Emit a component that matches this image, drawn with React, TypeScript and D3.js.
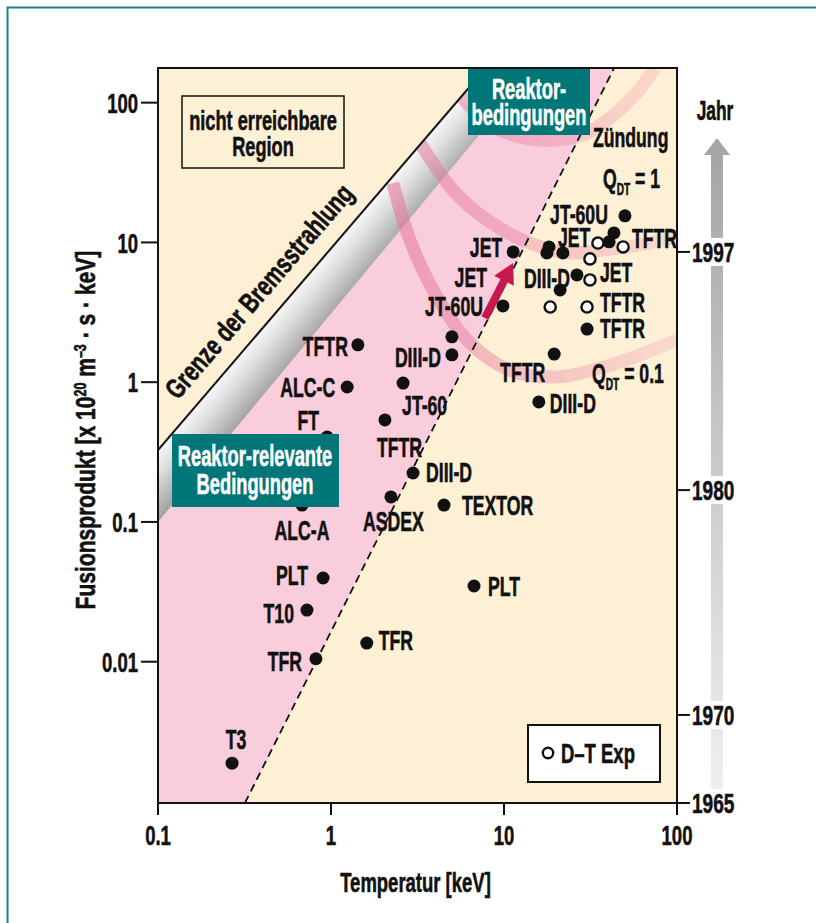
import React from 'react';
import * as d3 from 'd3';

const WIDTH = 816;
const HEIGHT = 923;
const FONT = '"Liberation Sans", Arial, Helvetica, sans-serif';

// axis ticks
const xTicks = [0.1, 1, 10, 100];
const xTickLabels = ['0.1', '1', '10', '100'];
const yTicks = [100, 10, 1, 0.1, 0.01];
const yTickLabels = ['100', '10', '1', '0.1', '0.01'];

// year scale on the right (year -> fusion product level it sits at)
const years = [1965, 1970, 1980, 1997];
const yearLevel = [0.000975, 0.00416, 0.169, 8.55];

// experiments (filled dots): temperature keV, fusion product 1e20 m^-3 s keV
const shotTemp = [
  0.268, 0.818, 0.726, 0.9, 0.68, 0.95, 1.24, 1.43, 5.0, 5.0,
  2.61, 2.05, 2.98, 2.22, 4.5, 6.71, 1.61, 11.3, 9.86, 50.0,
  43.2, 40.5, 18.2, 17.7, 21.9, 26.4, 21.1, 30.2, 19.5, 15.9,
];
const shotProduct = [
  0.00188, 0.0105, 0.0234, 0.0397, 0.132, 0.405, 0.924, 1.85, 2.11, 1.57,
  0.986, 0.537, 0.224, 0.151, 0.132, 0.0348, 0.0136, 8.55, 3.51, 15.5,
  11.7, 10.1, 9.28, 8.41, 8.41, 5.85, 4.57, 2.4, 1.59, 0.722,
];

// D-T experiments (open circles)
const dtTemp = [34.9, 48.8, 31.4, 31.4, 18.5, 30.2];
const dtProduct = [9.9, 9.28, 7.62, 5.39, 3.45, 3.45];

// labels: text, which set, index, pixel offset, anchor
const labelText = [
  'T3', 'TFR', 'T10', 'PLT', 'ALC-A', 'FT', 'ALC-C', 'TFTR', 'DIII-D', 'JT-60',
  'TFTR', 'DIII-D', 'ASDEX', 'TEXTOR', 'PLT', 'TFR', 'JET', 'JET', 'JT-60U', 'JT-60U',
  'TFTR', 'JET', 'DIII-D', 'TFTR', 'TFTR', 'DIII-D', 'JET', 'TFTR',
];
const labelRef: [string, number][] = [
  ['f', 0], ['f', 1], ['f', 2], ['f', 3], ['f', 4], ['f', 5], ['f', 6], ['f', 7], ['f', 9], ['f', 10],
  ['f', 11], ['f', 12], ['f', 13], ['f', 14], ['f', 15], ['f', 16], ['f', 17], ['f', 18], ['f', 18], ['f', 19],
  ['f', 20], ['f', 22], ['f', 25], ['f', 27], ['f', 28], ['f', 29], ['o', 3], ['o', 5],
];
const labelOffset: [number, number, string][] = [
  [4, -24, 'middle'], [-14, 2, 'end'], [-13, 3, 'end'], [-15, -3, 'end'], [0, 25, 'middle'],
  [-19, -17, 'middle'], [-12, 0, 'end'], [-10, 1, 'end'], [-11, 2, 'end'], [-1, 22, 'start'],
  [-8, 27, 'start'], [13, -1, 'start'], [-28, 24, 'start'], [18, 0, 'start'], [14, 0, 'start'],
  [12, -3, 'start'], [-11, -5, 'end'], [-16, -29, 'end'], [-20, 0, 'end'], [-17, -2, 'end'],
  [18, 5, 'start'], [9, -10, 'start'], [-7, 3, 'end'], [13, -1, 'start'], [-9, 18, 'end'],
  [11, 1, 'start'], [10, -8, 'start'], [13, -5, 'start'],
];

// region boundaries
const bremsLine: [number, number][] = [[0.1, 0.327], [7.85, 177]];
const bremsBandEdge: [number, number][] = [[0.1, 0.1], [15.1, 177]];
const dashedLine: [number, number][] = [[0.318, 0.000975], [43.3, 177]];

// Q curves
const arcQ01: [number, number][] = [
  [2.28, 26.6], [2.86, 10.4], [4.1, 4.07], [6.35, 1.91], [10.8, 1.22],
  [20.2, 1.09], [37.3, 1.28], [61.1, 1.57], [100, 2.0],
];
const arcQ1: [number, number][] = [
  [3.27, 51.5], [5.07, 23.7], [7.98, 14.5], [14.1, 9.9], [24.1, 8.41],
  [37.3, 8.83], [61.1, 9.59], [100, 10.9],
];
const arcIgnition: [number, number][] = [
  [5.42, 119], [7.98, 71.6], [12.4, 56.9], [20.2, 54.1], [30.2, 60.7],
  [41.0, 77.8], [57.2, 114], [74.6, 177],
];

// JET progress arrow
const arrowFrom: [number, number] = [7.76, 2.88];
const arrowTo: [number, number] = [11.3, 7.13];

const curveLabelPos: [number, number][] = [[32.7, 56.9], [37.3, 28.9], [32.3, 1.16]];

const x = d3.scaleLog().domain([0.1, 100]).range([158, 677]);
const y = d3.scaleLog().domain([0.000975, 177]).range([803, 68]);
const X0 = 158, X1 = 677, Y0 = 68, Y1 = 803;

const Txt = ({ px, py, children, anchor = 'start', size = 28, sx = 0.63, fill = '#111' }: any) => (
  <text
    transform={`translate(${px},${py}) scale(${sx},1)`}
    textAnchor={anchor}
    fontSize={size}
    fontWeight={700}
    fill={fill}
    stroke={fill}
    strokeWidth={0.6}
    fontFamily={FONT}
    dy="0.36em"
  >
    {children}
  </text>
);

const pt = (d: [number, number]) => [x(d[0]), y(d[1])];

export default function App() {
  const poly = (pts: [number, number][]) => pts.map(p => pt(p).join(',')).join(' ');

  const pinkRegion = poly([
    bremsBandEdge[0], bremsBandEdge[1], dashedLine[1], dashedLine[0], [0.1, 0.000975],
  ]);
  const grayBand = poly([bremsLine[0], bremsLine[1], bremsBandEdge[1], bremsBandEdge[0]]);
  const belowBrems = poly([bremsLine[0], bremsLine[1], [100, 177], [100, 0.000975], [0.1, 0.000975]]);

  // gradient across the gray band
  const [bx0, by0] = pt(bremsLine[0]);
  const [bx1, by1] = pt(bremsLine[1]);
  const len = Math.hypot(bx1 - bx0, by1 - by0);
  const dir = [(bx1 - bx0) / len, (by1 - by0) / len];
  const nrm = [-dir[1], dir[0]];
  const [ex0, ey0] = pt(bremsBandEdge[0]);
  const bandW = (ex0 - bx0) * nrm[0] + (ey0 - by0) * nrm[1];
  const angle = (Math.atan2(dir[1], dir[0]) * 180) / Math.PI;
  const gLabel = [bx0 + dir[0] * len * 0.37, by0 + dir[1] * len * 0.37];

  const arcLine = d3
    .line<[number, number]>()
    .x(d => x(d[0]))
    .y(d => y(d[1]))
    .curve(d3.curveCatmullRom.alpha(0.5));

  // arrow polygon
  const [ax0, ay0] = pt(arrowFrom);
  const [ax1, ay1] = pt(arrowTo);
  const al = Math.hypot(ax1 - ax0, ay1 - ay0);
  const ad = [(ax1 - ax0) / al, (ay1 - ay0) / al];
  const an = [-ad[1], ad[0]];
  const headL = 20, headW = 11, shaftW = 4;
  const hb = [ax1 - ad[0] * headL, ay1 - ad[1] * headL];
  const arrowPts = [
    [ax0 + an[0] * shaftW, ay0 + an[1] * shaftW],
    [hb[0] + an[0] * shaftW, hb[1] + an[1] * shaftW],
    [hb[0] + an[0] * headW, hb[1] + an[1] * headW],
    [ax1, ay1],
    [hb[0] - an[0] * headW, hb[1] - an[1] * headW],
    [hb[0] - an[0] * shaftW, hb[1] - an[1] * shaftW],
    [ax0 - an[0] * shaftW, ay0 - an[1] * shaftW],
  ].map(p => p.join(',')).join(' ');

  const yearY = (i: number) => y(yearLevel[i]);
  const [q1x, q1y] = pt(curveLabelPos[1]);
  const [q2x, q2y] = pt(curveLabelPos[2]);
  const [zx, zy] = pt(curveLabelPos[0]);

  const heavy = { fontWeight: 700, fill: '#111', stroke: '#111', strokeWidth: 0.6 } as const;

  return (
    <svg
      width={WIDTH}
      height={HEIGHT}
      style={{ position: 'absolute', left: 0, top: 0, background: '#fff' }}
      fontFamily={FONT}
    >
      <defs>
        <clipPath id="plotClip">
          <rect x={X0} y={Y0} width={X1 - X0} height={Y1 - Y0} />
        </clipPath>
        <clipPath id="belowBrems">
          <polygon points={belowBrems} />
        </clipPath>
        <linearGradient
          id="bandGrad"
          gradientUnits="userSpaceOnUse"
          x1={bx0}
          y1={by0}
          x2={bx0 + nrm[0] * bandW}
          y2={by0 + nrm[1] * bandW}
        >
          <stop offset="0" stopColor="#f7f7f7" />
          <stop offset="0.35" stopColor="#dedede" />
          <stop offset="1" stopColor="#a0a0a0" />
        </linearGradient>
        <linearGradient id="arcFade" gradientUnits="userSpaceOnUse" x1={380} y1={0} x2={X1} y2={0}>
          <stop offset="0" stopColor="#e5769d" stopOpacity={0.6} />
          <stop offset="0.4" stopColor="#e5769d" stopOpacity={0.42} />
          <stop offset="1" stopColor="#e5769d" stopOpacity={0.18} />
        </linearGradient>
        <linearGradient id="yearGrad" x1="0" y1="0" x2="0" y2="1">
          <stop offset="0" stopColor="#a6a6a6" />
          <stop offset="1" stopColor="#f0f0f0" />
        </linearGradient>
      </defs>

      <rect x={7.5} y={7.5} width={900} height={1000} fill="none" stroke="#16868a" strokeWidth={2} />

      <g clipPath="url(#plotClip)">
        <rect x={X0} y={Y0} width={X1 - X0} height={Y1 - Y0} fill="#fef0d5" />
        <polygon points={pinkRegion} fill="#f9cddb" />
        <polygon points={grayBand} fill="url(#bandGrad)" />
        <g clipPath="url(#belowBrems)">
          {[arcQ01, arcQ1, arcIgnition].map((a, i) => (
            <path key={i} d={arcLine(a) || ''} fill="none" stroke="url(#arcFade)" strokeWidth={13} />
          ))}
        </g>
        <line
          x1={pt(dashedLine[0])[0]} y1={pt(dashedLine[0])[1]}
          x2={pt(dashedLine[1])[0]} y2={pt(dashedLine[1])[1]}
          stroke="#111" strokeWidth={1.8} strokeDasharray="8,5"
        />
        <line x1={bx0} y1={by0} x2={bx1} y2={by1} stroke="#111" strokeWidth={2} />
      </g>

      <g transform={`translate(${gLabel[0]},${gLabel[1]}) rotate(${angle})`}>
        <text
          x={0} y={-17} textAnchor="middle" fontSize={28} {...heavy}
          textLength={272} lengthAdjust="spacingAndGlyphs"
        >
          Grenze der Bremsstrahlung
        </text>
      </g>

      {/* points */}
      {shotTemp.map((t, i) => (
        <circle key={'f' + i} cx={x(t)} cy={y(shotProduct[i])} r={6.5} fill="#111" />
      ))}
      {dtTemp.map((t, i) => (
        <circle key={'o' + i} cx={x(t)} cy={y(dtProduct[i])} r={5.6} fill="#fff" stroke="#111" strokeWidth={2.4} />
      ))}

      <polygon points={arrowPts} fill="#c8194f" />

      {labelText.map((s, i) => {
        const [set, k] = labelRef[i];
        const px = set === 'f' ? x(shotTemp[k]) : x(dtTemp[k]);
        const py = set === 'f' ? y(shotProduct[k]) : y(dtProduct[k]);
        const [dx, dy, anc] = labelOffset[i];
        return (
          <Txt key={'l' + i} px={px + dx} py={py + dy} anchor={anc}>
            {s}
          </Txt>
        );
      })}

      <Txt px={zx} py={zy}>Zündung</Txt>
      <text transform={`translate(${q1x},${q1y}) scale(0.63,1)`} fontSize={28} {...heavy} dy="0.36em">
        Q<tspan fontSize={16} dy={7}>DT</tspan><tspan dy={-7}> = 1</tspan>
      </text>
      <text transform={`translate(${q2x},${q2y}) scale(0.63,1)`} fontSize={28} {...heavy} dy="0.36em">
        Q<tspan fontSize={16} dy={7}>DT</tspan><tspan dy={-7}> = 0.1</tspan>
      </text>

      {/* annotation boxes */}
      <rect x={182} y={96} width={162} height={72} fill="#fef0d5" stroke="#111" strokeWidth={1.5} />
      <Txt px={263} py={120} anchor="middle" sx={0.65}>nicht erreichbare</Txt>
      <Txt px={263} py={146} anchor="middle" sx={0.65}>Region</Txt>

      <rect x={468} y={Y0} width={122} height={67} fill="#007679" />
      <Txt px={529} py={88} anchor="middle" size={30} sx={0.61} fill="#fff">Reaktor-</Txt>
      <Txt px={529} py={114} anchor="middle" size={30} sx={0.61} fill="#fff">bedingungen</Txt>

      <rect x={172} y={434} width={167} height={73} fill="#007679" />
      <Txt px={255} py={455} anchor="middle" size={30} sx={0.61} fill="#fff">Reaktor-relevante</Txt>
      <Txt px={255} py={483} anchor="middle" size={30} sx={0.61} fill="#fff">Bedingungen</Txt>

      <rect x={528} y={725} width={132} height={57} fill="#fff" stroke="#111" strokeWidth={2} />
      <circle cx={548} cy={753} r={5.2} fill="#fff" stroke="#111" strokeWidth={2.4} />
      <Txt px={561} py={753} sx={0.66}>D–T Exp</Txt>

      {/* frame */}
      <rect x={X0} y={Y0} width={X1 - X0} height={Y1 - Y0} fill="none" stroke="#111" strokeWidth={2} />

      {/* x axis */}
      {xTicks.map((t, i) => (
        <g key={'xt' + i}>
          <line x1={x(t)} x2={x(t)} y1={Y1} y2={Y1 + 12} stroke="#111" strokeWidth={2} />
          <Txt px={x(t)} py={835} anchor="middle" sx={0.66}>{xTickLabels[i]}</Txt>
        </g>
      ))}
      <Txt px={(X0 + X1) / 2 - 2} py={882} anchor="middle" sx={0.66}>Temperatur [keV]</Txt>

      {/* y axis */}
      {yTicks.map((t, i) => (
        <g key={'yt' + i}>
          <line x1={X0 - 17} x2={X0} y1={y(t)} y2={y(t)} stroke="#111" strokeWidth={2} />
          <Txt px={138} py={y(t)} anchor="end" sx={0.66}>{yTickLabels[i]}</Txt>
        </g>
      ))}
      <g transform="translate(85,430) rotate(-90)">
        <text transform="scale(0.78,1)" textAnchor="middle" dy="0.36em" fontSize={27} {...heavy}>
          Fusionsprodukt [x 10<tspan fontSize={16} dy={-9}>20</tspan>
          <tspan dy={9}> m</tspan>
          <tspan fontSize={16} dy={-9}>–3</tspan>
          <tspan dy={9}> · s · keV]</tspan>
        </text>
      </g>

      {/* year axis */}
      <rect x={711} y={155} width={12} height={640} fill="url(#yearGrad)" />
      <polygon points="704,155 730,155 717,138" fill="#a6a6a6" />
      <Txt px={715} py={110} anchor="middle" sx={0.62}>Jahr</Txt>
      {years.map((yr, i) => (
        <g key={'yr' + i}>
          <rect x={690} y={yearY(i) - 14} width={54} height={28} fill="#fff" />
          <line x1={X1} x2={X1 + 13} y1={yearY(i)} y2={yearY(i)} stroke="#111" strokeWidth={2} />
          <Txt px={692} py={yearY(i)} sx={0.68}>{String(yr)}</Txt>
        </g>
      ))}
    </svg>
  );
}
